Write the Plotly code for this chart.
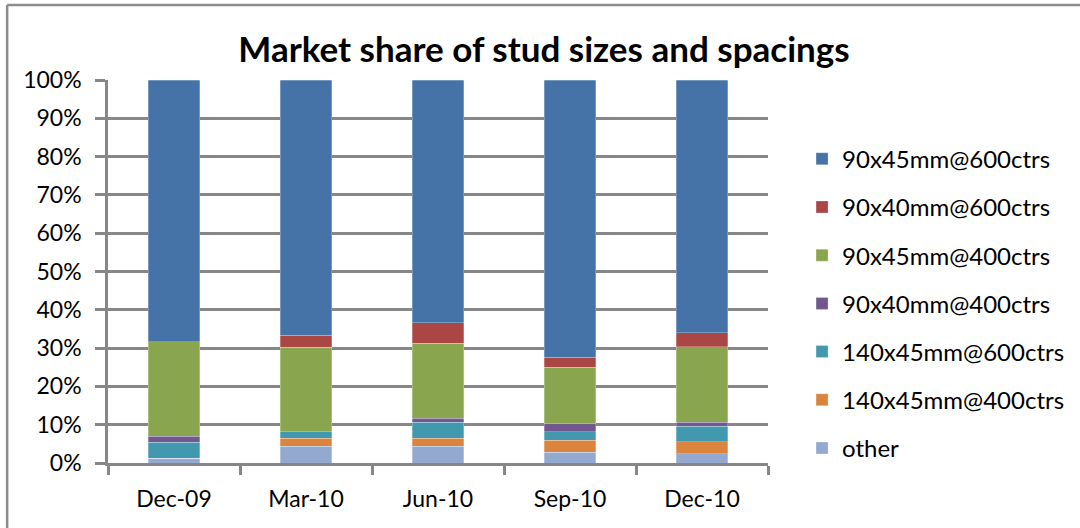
import plotly.graph_objects as go

categories = ["Dec-09", "Mar-10", "Jun-10", "Sep-10", "Dec-10"]

other = [1.2, 4.4, 4.4, 2.8, 2.4]
s140x45_400 = [0.0, 2.1, 2.1, 3.2, 3.1]
s140x45_600 = [4.2, 1.6, 4.2, 2.2, 4.1]
s90x40_400 = [1.6, 0.0, 1.0, 2.0, 1.1]
s90x45_400 = [24.7, 22.1, 19.6, 14.8, 19.6]
s90x40_600 = [0.0, 3.1, 5.3, 2.6, 3.7]
s90x45_600 = [68.3, 66.7, 63.4, 72.4, 66.0]

series_names = ["other", "140x45mm@400ctrs", "140x45mm@600ctrs", "90x40mm@400ctrs",
                "90x45mm@400ctrs", "90x40mm@600ctrs", "90x45mm@600ctrs"]
series_values = [other, s140x45_400, s140x45_600, s90x40_400, s90x45_400, s90x40_600, s90x45_600]
colors = ["#93A9CF", "#DB843D", "#4198AF", "#71588F", "#89A54E", "#AA4643", "#4572A7"]

FONT = "Lato"
GRID = "#878787"

fig = go.Figure()
n = len(series_names)
for i, (name, vals, col) in enumerate(zip(series_names, series_values, colors)):
    fig.add_trace(go.Bar(
        x=categories, y=[v / 100 for v in vals], name=name,
        marker=dict(color=col, line=dict(color="rgba(255,255,255,0.45)", width=0.6)),
        legendgroup=f"g{i}", legendrank=1000 + (n - i),
    ))

fig.update_layout(
    barmode="stack",
    bargap=0.61,
    width=1080, height=528,
    paper_bgcolor="white", plot_bgcolor="white",
    margin=dict(l=108, r=311, t=80, b=65),
    font=dict(family=FONT, color="black"),
    title=dict(text="<b>Market share of stud sizes and spacings</b>",
               font=dict(family=FONT, size=35, color="black"),
               x=0.5037, xref="container", xanchor="center",
               y=0.905, yref="container", yanchor="middle"),
    legend=dict(x=1.05, xanchor="left", y=0.852, yanchor="top",
                traceorder="grouped", tracegroupgap=14,
                font=dict(family=FONT, size=24, color="black"),
                itemwidth=30, bgcolor="rgba(0,0,0,0)"),
    showlegend=True,
)
fig.update_yaxes(range=[0, 1], tickvals=[i / 10 for i in range(11)], tickformat=".0%",
                 showgrid=True, gridcolor=GRID, gridwidth=2.5,
                 showline=True, linecolor=GRID, linewidth=2.5,
                 ticks="outside", ticklen=10, tickwidth=2.5, tickcolor=GRID,
                 tickfont=dict(family=FONT, size=23, color="black"),
                 ticklabelstandoff=9, zeroline=False, fixedrange=True)
fig.update_xaxes(showline=True, linecolor=GRID, linewidth=2.5,
                 ticks="outside", tickson="boundaries", ticklen=9, tickwidth=2.5, tickcolor=GRID,
                 tickfont=dict(family=FONT, size=23, color="black"),
                 ticklabelstandoff=14, showgrid=False, fixedrange=True)

# outer chart border (top and left edges visible in the frame)
fig.add_shape(type="line", xref="paper", yref="paper",
              x0=(7 - 108) / 661, x1=(1085 - 108) / 661,
              y0=(463 - 5) / 383, y1=(463 - 5) / 383,
              line=dict(color="#8C8C8C", width=2.5))
fig.add_shape(type="line", xref="paper", yref="paper",
              x0=(7 - 108) / 661, x1=(7 - 108) / 661,
              y0=(463 - 5) / 383, y1=(463 - 535) / 383,
              line=dict(color="#8C8C8C", width=2.5))

fig.write_html("out.html", config={"displayModeBar": False},
               post_script="document.body.style.margin='0';document.body.style.overflow='hidden';")
